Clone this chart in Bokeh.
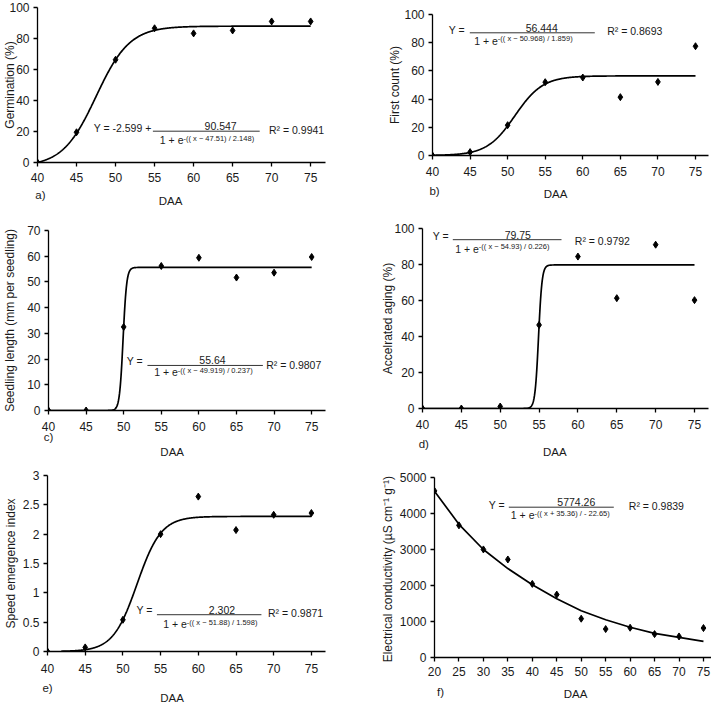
import math
import numpy as np
from bokeh.plotting import figure
from bokeh.models import Range1d, FixedTicker, Label, CustomJSTickFormatter, LinearAxis
from bokeh.layouts import column, row
from bokeh.embed import file_html
from bokeh.resources import INLINE

# ---------------- data ----------------
DAA = [40, 45, 50, 55, 60, 65, 70, 75]
germination = [0, 19.5, 66.3, 86.6, 83.3, 85.2, 91.0, 91.0]
first_count = [0, 2.4, 21.5, 52.0, 55.3, 41.4, 52.2, 77.5]
seedling_length = [0, 0, 32.5, 56.2, 59.4, 51.7, 53.6, 59.7]
accelerated_aging = [0, 0, 1.1, 46.4, 84.4, 61.3, 91.0, 60.2]
speed_emergence = [0, 0.07, 0.54, 2.0, 2.64, 2.07, 2.33, 2.36]

DAA_ec = [20, 25, 30, 35, 40, 45, 50, 55, 60, 65, 70, 75]
conductivity = [4628, 3671, 3002, 2723, 2045, 1747, 1078, 790, 827, 650, 585, 818]
conductivity_fit = [4620, 3700, 3000, 2470, 2020, 1630, 1300, 1050, 840, 670, 560, 450]

# fitted sigmoid parameters printed on the panels: (y0, a, x0, b)
fit_a = (-2.599, 90.547, 47.51, 2.148)
fit_b = (0.0, 56.444, 50.968, 1.859)
fit_c = (0.0, 55.64, 49.919, 0.237)
fit_d = (0.0, 79.75, 54.93, 0.226)
fit_e = (0.0, 2.302, 51.88, 1.598)

ticks_daa = [40, 45, 50, 55, 60, 65, 70, 75]
ticks_daa_ec = [20, 25, 30, 35, 40, 45, 50, 55, 60, 65, 70, 75]

FONT = "Liberation Sans"
TXT = "#1a1a1a"


def sigmoid(params, x0, x1):
    y0, a, xc, b = params
    xs = np.linspace(x0, x1, 701)
    return xs, y0 + a / (1.0 + np.exp(-(xs - xc) / b))


def text_axis(tick, txt, standoff, size):
    ax = LinearAxis(ticker=FixedTicker(ticks=[tick], minor_ticks=[]),
                    formatter=CustomJSTickFormatter(args=dict(t=txt), code="return t;"))
    ax.axis_line_color = None
    ax.major_tick_line_color = None
    ax.minor_tick_line_color = None
    ax.major_tick_in = 0
    ax.major_tick_out = 0
    ax.minor_tick_in = 0
    ax.minor_tick_out = 0
    ax.major_label_standoff = standoff
    ax.major_label_text_font = FONT
    ax.major_label_text_font_size = size
    ax.major_label_text_color = TXT
    return ax


class Panel:
    def __init__(self, ox, oy, W, H, L, R, T, B, xr, yr, xticks, yticks, xstand):
        self.ox, self.oy, self.W, self.H = ox, oy, W, H
        self.L, self.R, self.T, self.B = L, R, T, B
        self.xr, self.yr = xr, yr
        p = figure(width=W, height=H, x_range=Range1d(*xr), y_range=Range1d(*yr),
                   output_backend="svg", toolbar_location=None,
                   min_border_left=L, min_border_right=R, min_border_top=T,
                   min_border_bottom=B)
        p.outline_line_color = None
        p.xgrid.visible = False
        p.ygrid.visible = False
        p.background_fill_color = "white"
        p.border_fill_color = "white"
        p.xaxis.ticker = FixedTicker(ticks=xticks, minor_ticks=[])
        p.yaxis.ticker = FixedTicker(ticks=yticks, minor_ticks=[])
        for ax in (p.xaxis[0], p.yaxis[0]):
            ax.axis_line_color = "black"
            ax.axis_line_width = 1.3
            ax.major_tick_line_color = "black"
            ax.major_tick_line_width = 1.3
            ax.major_tick_in = 0
            ax.major_tick_out = 4
            ax.minor_tick_in = 0
            ax.minor_tick_out = 0
            ax.major_label_text_font = FONT
            ax.major_label_text_font_size = "12px"
            ax.major_label_text_color = TXT
        p.xaxis.major_label_standoff = xstand
        p.yaxis.major_label_standoff = 4
        p.yaxis.formatter = CustomJSTickFormatter(code="return String(tick);")
        self.p = p

    def dx(self, px):
        fw = self.W - self.L - self.R
        return self.xr[0] + (px - self.ox - self.L) / fw * (self.xr[1] - self.xr[0])

    def dy(self, py):
        fh = self.H - self.T - self.B
        return self.yr[0] + (self.oy + self.H - self.B - py) / fh * (self.yr[1] - self.yr[0])

    def text(self, s, px, py, size="10.5px", align="left"):
        self.p.add_layout(Label(x=self.dx(px), y=self.dy(py), text=s, text_font=FONT,
                                text_font_size=size, text_color=TXT, text_align=align,
                                text_baseline="middle"))

    def bar(self, px0, px1, py):
        self.p.segment(x0=[self.dx(px0)], y0=[self.dy(py)], x1=[self.dx(px1)],
                       y1=[self.dy(py)], line_color="#333333", line_width=1.0)

    def equation(self, lhs, lhs_xy, num, num_xy, bar_x0, bar_x1, bar_y, expo, expo_xy,
                 r2, r2_xy):
        self.text(lhs, *lhs_xy)
        self.text(num, *num_xy, align="center")
        self.bar(bar_x0, bar_x1, bar_y)
        self.text("1 + e", expo_xy[0], expo_xy[1] + 1.8, align="right")
        self.text(expo, expo_xy[0], expo_xy[1], size="7.5px")
        self.text(r2, *r2_xy)

    def decorate(self, ylabel, ylab_stand, ylab_size, tag, tag_cx, tag_stand, daa_cx, daa_stand):
        ya = self.p.yaxis[0]
        ya.axis_label = ylabel
        ya.axis_label_standoff = ylab_stand
        ya.axis_label_text_font = FONT
        ya.axis_label_text_font_size = ylab_size
        ya.axis_label_text_font_style = "normal"
        ya.axis_label_text_color = TXT
        tx = max(self.dx(tag_cx), self.xr[0])
        self.p.add_layout(text_axis(tx, tag, tag_stand, "11.5px"), "below")
        self.p.add_layout(text_axis(self.dx(daa_cx), "DAA", daa_stand, "11.5px"), "below")

    def data(self, xs, ys, cx, cy):
        self.p.line(cx, cy, line_color="black", line_width=1.7)
        self.p.scatter(xs, ys, marker="diamond", size=7, color="black")


# ---------------- panel a ----------------
pa = Panel(0, 0, 355, 215, 33, 30, 7, 53, (40, 76.9), (0, 100), ticks_daa,
           [0, 20, 40, 60, 80, 100], 6)
cx, cy = sigmoid(fit_a, 40, 75)
pa.data(DAA, germination, cx, cy)
pa.equation("Y = -2.599 +", (90, 127.3), "90.547", (218.7, 125.7), 150, 258.3, 130.7,
            "-(( x \u2212 47.51) / 2.148)", (181, 137.7), "R\u00b2 = 0.9941", (267.7, 129))
pa.decorate("Germination (%)", -11, "12px", "a)", 36, 4, 168, -9)

# ---------------- panel b ----------------
pb = Panel(355, 0, 356, 215, 77, 3, 14, 60, (40, 76.73), (0, 100), ticks_daa,
           [0, 20, 40, 60, 80, 100], 7)
cx, cy = sigmoid(fit_b, 40, 75)
pb.data(DAA, first_count, cx, cy)
pb.equation("Y =", (448.3, 29), "56.444", (541.2, 27.3), 469.3, 594.3, 32.3,
            "-(( x \u2212 50.968) / 1.859)", (497.3, 38.3), "R\u00b2 = 0.8693", (606.7, 30))
pb.decorate("First count (%)", -1, "12px", "b)", 434, 6, 555, -12)

# ---------------- panel c ----------------
pc = Panel(0, 215, 355, 245, 45, 30, 15, 49, (40, 76.84), (0, 70), ticks_daa,
           [0, 10, 20, 30, 40, 50, 60, 70], 7)
cx, cy = sigmoid(fit_c, 40, 75)
pc.data(DAA, seedling_length, cx, cy)
pc.equation("Y =", (124, 361.7), "55.64", (210.7, 360.7), 145, 261.7, 365.7,
            "-(( x \u2212 49.919) / 0.237)", (175.7, 370.3), "R\u00b2 = 0.9807", (265, 365.7))
pc.decorate("Seedling length (mm per seedling)", 7, "12px", "c)", 45, -3, 170, 0)

# ---------------- panel d ----------------
pd_ = Panel(355, 215, 356, 245, 67, 3, 13, 50, (40, 76.8), (0, 100), ticks_daa,
            [0, 20, 40, 60, 80, 100], 7)
cx, cy = sigmoid(fit_d, 40, 75)
pd_.data(DAA, accelerated_aging, cx, cy)
pd_.equation("Y =", (432.3, 235.7), "79.75", (517.3, 235), 452.3, 561, 239.3,
             "-(( x \u2212 54.93) / 0.226)", (478.3, 246.7), "R\u00b2 = 0.9792", (574.3, 240.7))
pd_.decorate("Accelrated aging (%)", -4, "12px", "d)", 423.3, 6, 554.3, -7)

# ---------------- panel e ----------------
pe = Panel(0, 460, 355, 246, 43, 30, 15, 54, (40, 76.87), (0, 3), ticks_daa,
           [0, 0.5, 1, 1.5, 2, 2.5, 3], 8)
cx, cy = sigmoid(fit_e, 41.8, 75)
pe.data(DAA, speed_emergence, cx, cy)
pe.equation("Y =", (133.3, 610.7), "2.302", (220, 610.7), 154, 260, 615,
            "-(( x \u2212 51.88) / 1.598)", (184.3, 622.7), "R\u00b2 = 0.9871", (266.7, 613.3))
pe.decorate("Speed emergence index", 2, "12px", "e)", 42.3, 6, 169.3, -5)

# ---------------- panel f ----------------
pf = Panel(355, 460, 356, 246, 79, 0, 17, 49, (20, 76.64), (0, 5000), ticks_daa_ec,
           [0, 1000, 2000, 3000, 4000, 5000], 5)
pf.data(DAA_ec, conductivity, DAA_ec, conductivity_fit)
pf.equation("Y =", (488.3, 504), "5774.26", (575.8, 501.7), 508.3, 613.3, 506.7,
            "-(( x + 35.36) / - 22.65)", (534, 512.7), "R\u00b2 = 0.9839", (628.3, 505.7))
pf.decorate("Electrical conductivity  (\u00b5S cm\u207b\u00b9 g\u207b\u00b9)", 2, "12px", "f)",
            440, 7, 575, -13)

layout = column(
    row(column(pa.p), column(pb.p), spacing=0),
    row(column(pc.p), column(pd_.p), spacing=0),
    row(column(pe.p), column(pf.p), spacing=0),
    spacing=0,
)

open("out.html", "w").write(file_html(layout, INLINE))
